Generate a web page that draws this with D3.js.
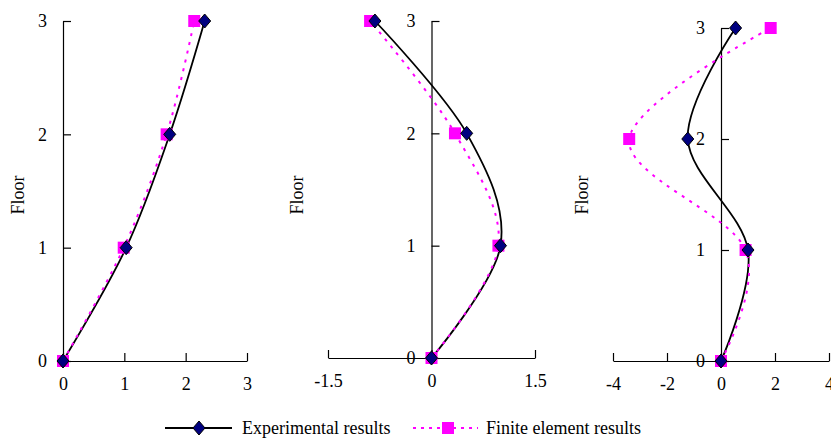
<!DOCTYPE html>
<html>
<head>
<meta charset="utf-8">
<script src="https://cdn.jsdelivr.net/npm/d3@7"></script>
<style>
  body { margin: 0; background: #fff; }
  svg text { font-family: "Liberation Serif", "Times New Roman", serif; }
</style>
</head>
<body>
<div id="main"></div>
<script>
'use strict';

// floors and displacement values
var floors = [0, 1, 2, 3];
var floorTicks = [0, 1, 2, 3];

var exp1 = [0, 1.03, 1.74, 2.31];
var fe1 = [0, 0.99, 1.69, 2.14];
var exp2 = [0, 1.0, 0.51, -0.82];
var fe2 = [0, 0.97, 0.34, -0.89];
var exp3 = [0, 1.0, -1.23, 0.54];
var fe3 = [0, 0.91, -3.4, 1.84];

var xTicks1 = [0, 1, 2, 3];
var xTicks2 = [-1.5, 0, 1.5];
var xTicks3 = [-4, -2, 0, 2, 4];

var seriesNames = ['Experimental results', 'Finite element results'];

var width = 831;
var height = 439;
var magenta = '#ff00ff';
var navy = '#000080';

var svg = d3.select('#main').append('svg')
	.attr('width', width)
	.attr('height', height);

var panels = [
	{exp: exp1, fe: fe1, ticks: xTicks1, xd: [0, 3], xr: [63, 247], yr: [361, 21], label: 18},
	{exp: exp2, fe: fe2, ticks: xTicks2, xd: [-1.5, 1.5], xr: [328, 535], yr: [358, 21], label: 297},
	{exp: exp3, fe: fe3, ticks: xTicks3, xd: [-4, 4], xr: [613, 829], yr: [361, 28], label: 582}
];

var diamond = d3.symbol().type(d3.symbolDiamond2 || d3.symbolDiamond).size(90);

function drawDiamond(g, x, y) {
	g.append('path')
		.attr('d', 'M0,-7L6,0L0,7L-6,0Z')
		.attr('transform', 'translate(' + x + ',' + y + ')')
		.attr('fill', navy)
		.attr('stroke', '#000')
		.attr('stroke-width', 1);
}

function drawSquare(g, x, y) {
	g.append('rect')
		.attr('x', x - 6).attr('y', y - 6)
		.attr('width', 12).attr('height', 12)
		.attr('fill', magenta);
}

panels.forEach(function(p) {
	var x = d3.scaleLinear().domain(p.xd).range(p.xr);
	var y = d3.scaleLinear().domain([0, 3]).range(p.yr);
	var g = svg.append('g');

	// x axis along floor 0, ticks pointing up
	var xAxis = g.append('g')
		.attr('transform', 'translate(0,' + y(0) + ')')
		.call(d3.axisBottom(x).tickValues(p.ticks)
			.tickSizeInner(-8).tickSizeOuter(0).tickPadding(16)
			.tickFormat(function(d) { return String(d); }));

	// y axis at x = 0, ticks pointing right
	var yAxis = g.append('g')
		.attr('transform', 'translate(' + x(0) + ',0)')
		.call(d3.axisLeft(y).tickValues(floorTicks)
			.tickSizeInner(-8).tickSizeOuter(0).tickPadding(16)
			.tickFormat(function(d) { return String(d); }));

	[xAxis, yAxis].forEach(function(a) {
		a.selectAll('path, line').attr('stroke', '#000').attr('stroke-width', 1.2);
		a.selectAll('text').attr('font-size', '18px').attr('fill', '#000')
			.style('font-family', '"Liberation Serif", serif');
	});

	g.append('text')
		.attr('transform', 'translate(' + p.label + ',195) rotate(-90)')
		.attr('text-anchor', 'middle')
		.attr('dy', '0.35em')
		.attr('font-size', '18px')
		.text('Floor');

	var line = d3.line()
		.x(function(d) { return x(d[0]); })
		.y(function(d) { return y(d[1]); })
		.curve(d3.curveCardinal.tension(0));

	var expPts = floors.map(function(f, i) { return [p.exp[i], f]; });
	var fePts = floors.map(function(f, i) { return [p.fe[i], f]; });

	g.append('path').attr('d', line(expPts))
		.attr('fill', 'none').attr('stroke', '#000').attr('stroke-width', 1.8);
	g.append('path').attr('d', line(fePts))
		.attr('fill', 'none').attr('stroke', magenta).attr('stroke-width', 2)
		.attr('stroke-dasharray', '3,6');

	fePts.forEach(function(d) { drawSquare(g, x(d[0]), y(d[1])); });
	expPts.forEach(function(d) { drawDiamond(g, x(d[0]), y(d[1])); });
});

// legend
var leg = svg.append('g');
leg.append('line').attr('x1', 165).attr('x2', 232).attr('y1', 428).attr('y2', 428)
	.attr('stroke', '#000').attr('stroke-width', 1.8);
drawDiamond(leg, 199, 428);
leg.append('text').attr('x', 242).attr('y', 434).attr('font-size', '18px').text(seriesNames[0]);

leg.append('line').attr('x1', 413).attr('x2', 478).attr('y1', 428).attr('y2', 428)
	.attr('stroke', magenta).attr('stroke-width', 2).attr('stroke-dasharray', '3,5');
drawSquare(leg, 448, 428);
leg.append('text').attr('x', 486).attr('y', 434).attr('font-size', '18px').text(seriesNames[1]);
</script>
</body>
</html>
